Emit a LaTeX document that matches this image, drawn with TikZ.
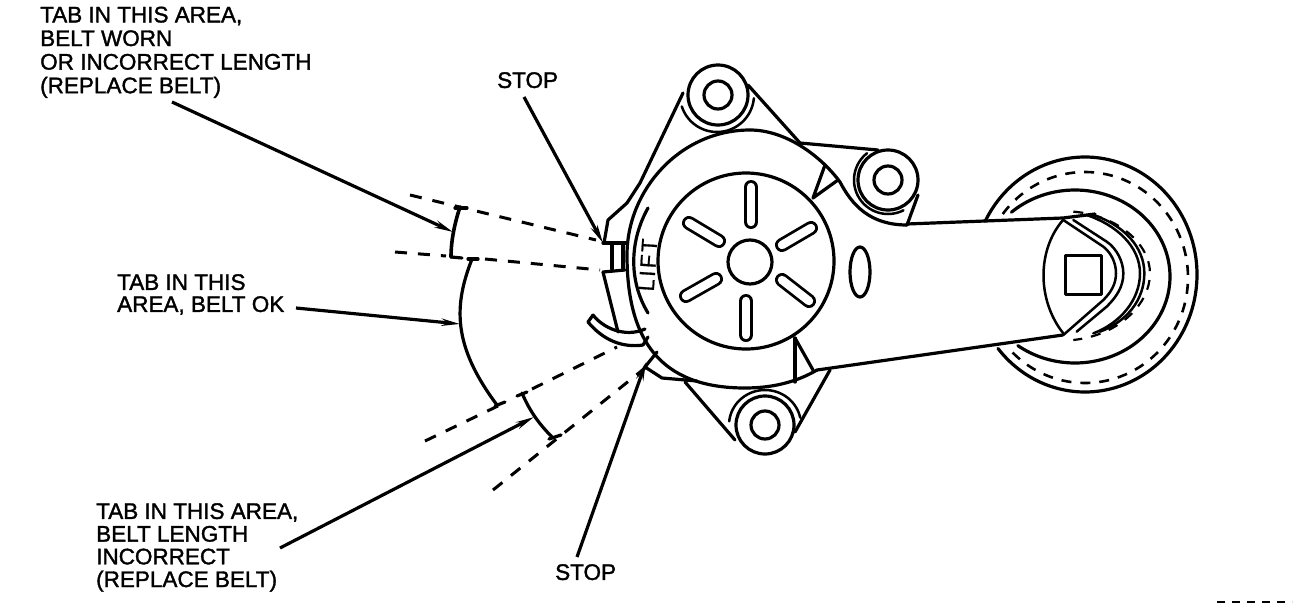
\documentclass[tikz,border=0pt]{standalone}
\usepackage{fontspec}
\setmainfont{Liberation Sans}
\newfontfamily\notefont{Liberation Sans}[FakeBold=1.5]
\newfontfamily\liftfont{Liberation Sans}[FakeBold=0.8,LetterSpace=11]
\usetikzlibrary{arrows.meta}
\tikzset{
  arcplot/.style={smooth,samples=70},
  ink/.style={line width=3.2pt,line cap=round,line join=round,black},
  thin ink/.style={line width=2.5pt,line cap=round,line join=round,black},
  guide/.style={line width=3pt,black,dash pattern=on 12pt off 11pt},
  finedash/.style={line width=2.6pt,black,dash pattern=on 10pt off 9pt},
  leader/.style={line width=3.2pt,black,-{Stealth[length=18pt,width=7pt]}},
  note/.style={align=left,anchor=north west,inner sep=0pt,text=black},
  lifttext/.style={font=\liftfont\fontsize{22}{22}\selectfont,inner sep=0pt,rotate=86},
  zoomP/.style={x=0.33333pt,y=-0.33333pt,shift={(960pt,-140pt)}}
}
\newcommand{\slotline}[2]{%
  \draw[line width=14pt,black,line cap=round] (#1) -- (#2);
  \draw[line width=8.4pt,white,line cap=round] (#1) -- (#2);}
\begin{document}
\begin{tikzpicture}[x=1pt,y=-1pt]
\useasboundingbox (0,0) rectangle (1312,608);
\fill[white] (0,0) rectangle (1312,608);

% labels
\node[note,font=\notefont\fontsize{22.5}{23.6}\selectfont] (n1) at (40,6.5) {TAB IN THIS AREA,\\BELT WORN\\OR INCORRECT LENGTH\\(REPLACE BELT)};
\node[note,font=\notefont\fontsize{22.5}{22}\selectfont] (n2) at (117,274) {TAB IN THIS\\AREA, BELT OK};
\node[note,font=\notefont\fontsize{22.5}{22.7}\selectfont] (n3) at (96,503) {TAB IN THIS AREA,\\BELT LENGTH\\INCORRECT\\(REPLACE BELT)};
\node[note,font=\notefont\fontsize{22.5}{22}\selectfont] (s1) at (497,72) {STOP};
\node[note,font=\notefont\fontsize{22.5}{22}\selectfont] (s2) at (555,564) {STOP};

% leader ends
\coordinate (l1a) at (172,102); \coordinate (l1b) at (453,232);
\coordinate (l2a) at (296,308); \coordinate (l2b) at (460,324);
\coordinate (l3a) at (280,548); \coordinate (l3b) at (534,417);
\coordinate (l4a) at (524,97);  \coordinate (l4b) at (603,243);
\coordinate (l5a) at (577,557); \coordinate (l5b) at (646,362);
\draw[leader] (l1a) -- (l1b);
\draw[leader] (l2a) -- (l2b);
\draw[leader] (l3a) -- (l3b);
\draw[leader] (l4a) -- (l4b);
\draw[leader] (l5a) -- (l5b);

% range arcs
\draw[ink,line width=3.6pt] (460,207) .. controls (455,222) and (451,240) .. (451,257);
\draw[ink] (455,208)--(467,208);
\draw[ink] (451,257)--(462,258);
\draw[ink] (472,259) .. controls (454,305) and (452,345) .. (497,405);
\draw[ink] (468,259)--(478,259);
\draw[ink] (495,406)--(505,402);
\draw[ink] (522,393) .. controls (530,412) and (540,425) .. (553,438);
\draw[ink] (517,396)--(527,392);
\draw[ink] (549,439)--(561,435);

% dashed guide lines
\coordinate (g1a) at (410,195); \coordinate (g1b) at (596,240);
\coordinate (g2a) at (395,252); \coordinate (g2b) at (446,256);
\coordinate (g2c) at (485,259); \coordinate (g2d) at (600,270);
\coordinate (g3a) at (425,441); \coordinate (g3b) at (500,405);
\coordinate (g3c) at (532,389); \coordinate (g3d) at (617,347);
\coordinate (g4a) at (493,490); \coordinate (g4b) at (645,368);
\draw[guide] (g1a) -- (g1b);
\draw[guide] (g2a) -- (g2b);
\draw[guide] (g2c) -- (g2d);
\draw[guide] (g3a) -- (g3b);
\draw[guide] (g3c) -- (g3d);
\draw[guide] (g4a) -- (g4b);

% housing outline
\draw[ink] (817,370) .. controls (795,383) and (770,388) .. (745,388)
  .. controls (660,388) and (627,340) .. (627,255)
  .. controls (627,190) and (680,130) .. (750,130)
  .. controls (785,130) and (820,155) .. (840,182)
  .. controls (852,205) and (870,225) .. (907,225);

% LIFT arc and text
\draw[ink] (648,208) .. controls (630,240) and (628,280) .. (648,313);
\node[lifttext] (lift) at (648,265) {LIFT};

% inner disc and hub
\draw[ink] (746,261) circle[radius=88];
\draw[ink] (750,262) circle[radius=22];
\slotline{751,187}{751,222}
\slotline{746,301}{746,335}
\slotline{689,223}{719,241}
\slotline{782,245}{811,228}
\slotline{686,296}{716,279}
\slotline{782,280}{809,301}
\draw[ink] (860,272) ellipse[x radius=10,y radius=25];

% top lug
\draw[ink] (718,95) circle[radius=30];
\draw[ink] (718,95) circle[radius=14];
\draw[thin ink] plot[arcplot,domain=162:5] ({717+37*cos(\x)},{95+37*sin(\x)});
\draw[ink] (683,93)--(640,183)--(627,203)--(608,220)--(604,243);
\draw[ink] (748,85)--(800,143)--(878,150);

% right small pulley
\draw[ink] (888,180) circle[radius=30];
\draw[ink] (888,180) circle[radius=14];
\draw[thin ink] plot[arcplot,domain=232:63] ({888+34*cos(\x)},{180+34*sin(\x)});
\draw[ink] (907,225)--(918,195);
\draw[ink] (825,165)--(813,198)--(838,180);

% stop tab and hook
\draw[ink] (603,243)--(627,243);
\draw[ink] (612,243)--(612,269);
\draw[ink] (623,243)--(623,269);
\draw[ink] (603,272)--(625,270);
\draw[ink] (603,272)--(618,332);
\draw[ink] (593,315) .. controls (603,328) and (625,338) .. (645,329);
\draw[ink] (588,322) .. controls (603,340) and (622,348) .. (643,345);
\draw[ink] (593,315)--(588,322);
\draw[ink] (643,345)--(648,337);
\draw[ink] (657,352)--(645,367)--(662,378)--(697,381);

% bottom lug
\draw[ink] (765,425) circle[radius=29];
\draw[ink] (765,425) circle[radius=14];
\draw[thin ink] plot[arcplot,domain=186:348] ({765+36*cos(\x)},{425+35*sin(\x)});
\draw[ink] (685,382)--(735,440);
\draw[ink] (830,370)--(795,432);
\draw[ink] (795,338)--(795,382);
\draw[ink] (795,338)--(813,370);

% arm
\draw[ink] (907,224)--(1063,218)--(1095,214);
\draw[ink] (817,370)--(1063,335);

% big pulley
\draw[ink] plot[arcplot,samples=120,domain=-153:141] ({1085+112*cos(\x)},{274.5+117.5*sin(\x)});
\draw[finedash] plot[arcplot,samples=120,domain=-143:135] ({1085+103*cos(\x)},{277.5+105.5*sin(\x)});
\draw[ink] plot[arcplot,samples=120,domain=-132:127] ({1075+95*cos(\x)},{276.5+86.5*sin(\x)});
\draw[thin ink] (1063,220) .. controls (1037,250) and (1037,300) .. (1063,333);

% centre of the pulley, coordinates in 1/3 px
\begin{scope}[zoomP]
\draw[ink] (317,347) rectangle (425,463);
\draw[thin ink] (310,240)--(430,320) .. controls (455,340) and (468,370) .. (468,400) .. controls (468,430) and (455,455) .. (430,480) -- (310,585);
\draw[thin ink] (340,240)--(440,305) .. controls (470,325) and (490,365) .. (490,400) .. controls (490,440) and (470,470) .. (440,500) -- (350,575);
\draw[thin ink] (380,225) .. controls (470,255) and (540,320) .. (540,400) .. controls (540,480) and (480,550) .. (400,580);
\draw[thin ink] (400,225) .. controls (490,255) and (553,320) .. (553,400) .. controls (553,480) and (500,545) .. (420,575);
\draw[finedash,line width=2.2pt] (340,215) .. controls (470,225) and (570,310) .. (570,400) .. controls (570,490) and (480,585) .. (340,600);
\end{scope}

% cut-off mark at lower right
\draw[line width=2.4pt,black,dash pattern=on 8pt off 7pt] (1217,602)--(1292,602);
\end{tikzpicture}
\end{document}
